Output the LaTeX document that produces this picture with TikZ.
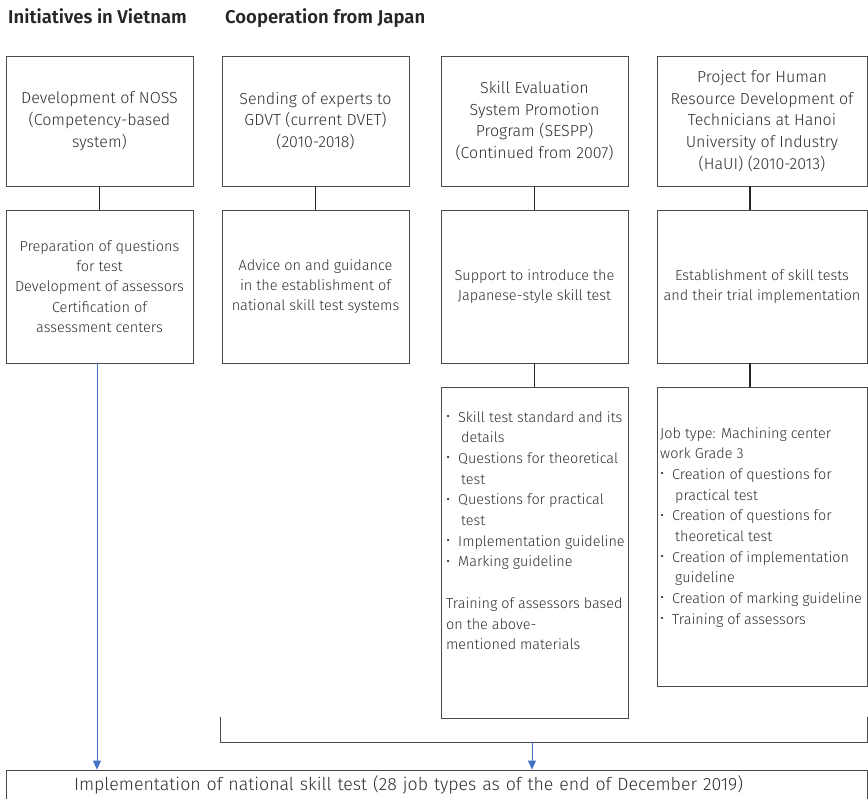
\documentclass[tikz,border=0pt]{standalone}
\usepackage{fontspec}
\setmainfont{Fira Sans}[UprightFont=* Light, BoldFont=* SemiBold]
\usepackage{graphicx}
\usepackage{xcolor}
\usetikzlibrary{arrows.meta,calc,positioning}

\definecolor{txtgray}{HTML}{2E2E2E}
\definecolor{boxgray}{HTML}{4A4A4A}
\definecolor{arrowblue}{HTML}{4472C4}

\newcommand{\puce}{\makebox[12pt][l]{\raisebox{0.1ex}{\textbullet}}}
\newcommand{\suite}{\hspace*{15pt}}

\tikzset{
  box/.style={draw=boxgray, line width=0.8pt, inner sep=0pt, align=center,
    text=txtgray},
  big/.style={font=\fontsize{16}{21.7}\selectfont},
  small/.style={font=\fontsize{14.5}{20.3}\selectfont},
  boxtext/.style={inner sep=0pt, align=left, text=txtgray,
    font=\fontsize{14.4}{20.7}\selectfont, anchor=north west},
  title/.style={inner sep=0pt, anchor=base west, text=black!85,
    font=\fontsize{18.5}{22}\selectfont\bfseries},
  link/.style={draw=black!85, line width=1.2pt},
  bracket/.style={draw=boxgray, line width=0.8pt},
  bluearrow/.style={draw=arrowblue, line width=0.8pt,
    -{Triangle[width=8pt,length=9pt]}},
}

\begin{document}
\begin{tikzpicture}[x=1pt,y=-1pt]
  \def \bw{187}  % largeur des boites
  \def \bwlast{210}
  \path[use as bounding box,clip] (0,0) rectangle (868,799);

  % titres
  \node[title] (tvn) at (8,24) {Initiatives in Vietnam};
  \node[title] (tjp) at (225,24) {Cooperation from Japan};

  % premiere ligne
  \node[box, big, minimum width=\bw, minimum height=130] (b1a) at (99.5,121)
    {Development of NOSS\\(Competency-based\\system)};
  \node[box, big, minimum width=\bw, minimum height=130] (b2a) at (315.5,121)
    {Sending of experts to\\GDVT (current DVET)\\(2010-2018)};
  \node[box, big, minimum width=\bw, minimum height=130] (b3a) at (534.5,121)
    {Skill Evaluation\\System Promotion\\Program (SESPP)\\(Continued from 2007)};
  \node[box, big, minimum width=\bwlast, minimum height=130] (b4a) at (762,121)
    {Project for Human\\Resource Development of\\Technicians at Hanoi\\University of Industry\\(HaUI) (2010-2013)};

  % deuxieme ligne
  \node[box, small, minimum width=\bw, minimum height=153] (b1b) at (99.5,286.5)
    {Preparation of questions\\for test\\Development of assessors\\Certification of\\assessment centers};
  \node[box, small, minimum width=\bw, minimum height=153] (b2b) at (315.5,286.5)
    {Advice on and guidance\\in the establishment of\\national skill test systems};
  \node[box, small, minimum width=\bw, minimum height=153] (b3b) at (534.5,286.5)
    {Support to introduce the\\Japanese-style skill test};
  \node[box, small, minimum width=\bwlast, minimum height=153] (b4b) at (762,286.5)
    {Establishment of skill tests\\and their trial implementation};

  % troisieme ligne
  \node[box, minimum width=\bw, minimum height=331] (b3c) at (534.5,552.5) {};
  \node[box, minimum width=\bwlast, minimum height=299] (b4c) at (762,536.5) {};
  \node[boxtext] (t3c) at (446,411)
    {\puce Skill test standard and its\\
     \suite details\\
     \puce Questions for theoretical\\
     \suite test\\
     \puce Questions for practical\\
     \suite test\\
     \puce Implementation guideline\\
     \puce Marking guideline\\[20.7pt]
     Training of assessors based\\
     on the above-\\
     mentioned materials};
  \node[boxtext] (t4c) at (660,427)
    {Job type: Machining center\\
     work Grade 3\\
     \puce Creation of questions for\\
     \suite practical test\\
     \puce Creation of questions for\\
     \suite theoretical test\\
     \puce Creation of implementation\\
     \suite guideline\\
     \puce Creation of marking guideline\\
     \puce Training of assessors};

  % boite finale
  \node[box, font=\fontsize{17.75}{21}\selectfont, minimum width=861, minimum height=30,
    text width=861, align=left] (bot) at (436.5,785)
    {\hspace*{68pt}Implementation of national skill test (28 job types as of the end of December 2019)};

  % liaisons
  \draw[link] (b1a) -- (b1b);
  \draw[link] (b2a) -- (b2b);
  \draw[link] (b3a) -- (b3b);
  \draw[link] (b3b) -- (b3c);
  \draw[link] (750,0 |- b4a.south) -- (750,0 |- b4b.north);
  \draw[link] (750,0 |- b4b.south) -- (750,0 |- b4c.north);

  % accolade du bas
  \coordinate (brL) at (220,717);
  \coordinate (brR) at (867,717);
  \coordinate (brM) at (532,742);
  \draw[bracket] (brL) -- (brL |- brM) -- (brR |- brM) -- (brR);
  \draw[bluearrow] (brM) -- (brM |- bot.north);
  \draw[bluearrow] (97,0 |- b1b.south) -- (97,0 |- bot.north);
\end{tikzpicture}
\end{document}
